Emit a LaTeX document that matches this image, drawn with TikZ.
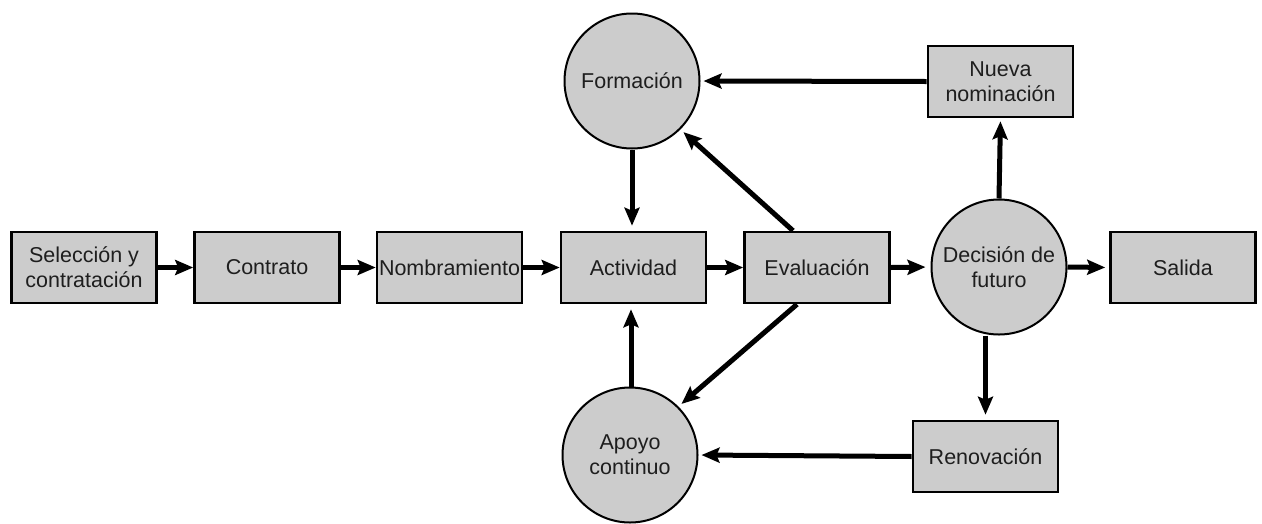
\documentclass[tikz,border=0pt]{standalone}
\usepackage{fontspec}
\setmainfont{Liberation Sans}
\usetikzlibrary{arrows.meta}
\definecolor{boxfill}{RGB}{204,204,204}
\definecolor{inktext}{RGB}{30,30,30}
\begin{document}
\begin{tikzpicture}[x=1pt,y=-1pt,
  every node/.style={font=\fontsize{21.5}{25}\selectfont, text=inktext, align=center, inner sep=0pt},
  stage/.style={draw=black, fill=boxfill, line width=2.6pt, minimum width=145pt, minimum height=71pt},
  hub/.style={draw=black, fill=boxfill, circle, line width=2pt, minimum size=135pt},
  flow/.style={draw=black, line width=5pt, -{Stealth[length=18pt,width=15pt,inset=3pt]}}
]
\useasboundingbox (0,0) rectangle (1262,523);

% main row
\node[stage] (sel) at (84,267.5) {Selección y\\contratación};
\node[stage] (con) at (267,267.5) {Contrato};
\node[stage] (nom) at (449.5,267.5) {Nombramiento};
\node[stage] (act) at (633.5,267.5) {Actividad};
\node[stage] (eva) at (817,267.5) {Evaluación};
\node[hub]   (dec) at (999,267) {Decisión de\\futuro};
\node[stage] (sal) at (1183,267.5) {Salida};

% upper and lower loops
\node[hub]   (for) at (632,81) {Formación};
\node[stage] (nue) at (1000.5,81.5) {Nueva\\nominación};
\node[hub]   (apo) at (630,455) {Apoyo\\continuo};
\node[stage] (ren) at (985.5,456.5) {Renovación};

% horizontal flow
\draw[flow] (sel.east) -- (con.west);
\draw[flow] (con.east) -- (nom.west);
\draw[flow] (nom.east) -- (act.west);
\draw[flow] (act.east) -- (eva.west);
\draw[flow, shorten >=5pt] (eva.east) -- (dec.west);
\draw[flow, shorten >=4pt] (dec.east) -- (sal.west);

% loops around the activity
\draw[flow, shorten >=5pt] (for.south -| act.north) ++(-1.5,0) coordinate (fs) -- (fs |- act.north);
\draw[flow, shorten >=5pt] (apo.north -| act.south) ++(-2.5,0) coordinate (an) -- (an |- act.south);
\draw[flow, shorten >=3pt] (nue.west) -- (for.east);
\draw[flow, shorten >=3pt] (ren.west) -- (apo.east);
\draw[flow, shorten >=4pt] (eva.north) ++(-24,0) coordinate (et) -- (for.-45);
\draw[flow, shorten >=4pt] (eva.south) ++(-20,0) coordinate (eb) -- (apo.45);

% decision branches
\draw[flow, shorten >=3pt] (dec.north) -- (nue.south);
\draw[flow, shorten >=5pt] (dec.south -| ren.north) coordinate (ds) -- (ren.north);
\end{tikzpicture}
\end{document}
